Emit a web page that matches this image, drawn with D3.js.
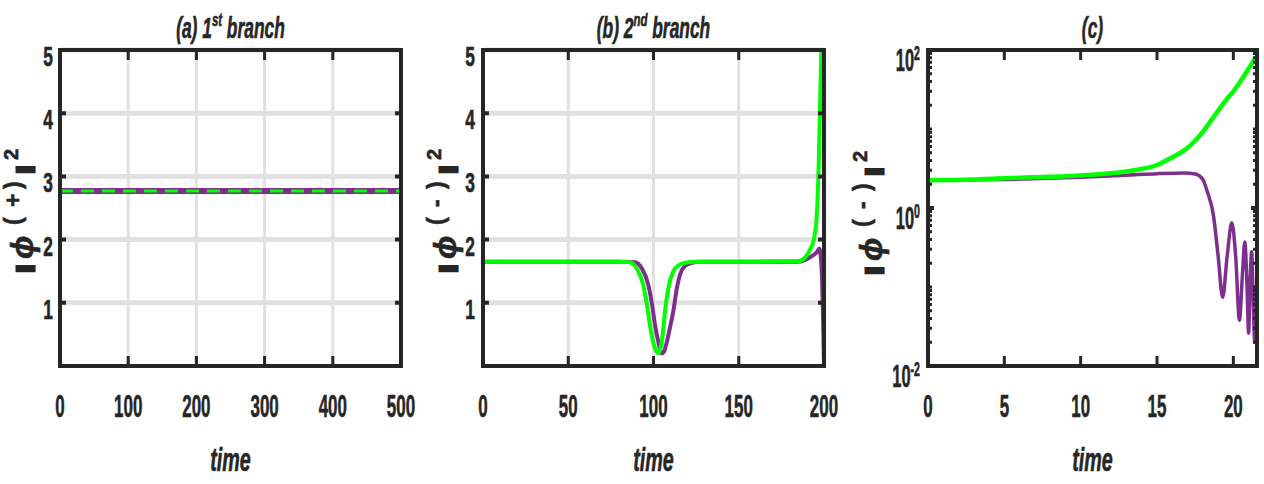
<!DOCTYPE html>
<html>
<head>
<meta charset="utf-8">
<script src="https://cdn.jsdelivr.net/npm/d3@7"></script>
<style>
  body { margin: 0; background: #fff; }
  text { font-family: "Liberation Sans", Arial, sans-serif; font-weight: bold; fill: #262626; stroke: #262626; stroke-width: 0.6px; }
</style>
</head>
<body>
<script>
// ---- data ----
// (a) 1st branch, |phi(+)|^2 vs time
var timeA   = [0, 100, 200, 300, 400, 500];
var purpleA = [2.77, 2.77, 2.77, 2.77, 2.77, 2.77];
var greenA  = [2.77, 2.77, 2.77, 2.77, 2.77, 2.77];

// (b) 2nd branch, |phi(-)|^2 vs time
var timeBg  = [0, 40, 80, 86, 90, 94, 96, 98, 100, 101.5, 102.5, 103.5, 105, 107, 109, 111.5, 114, 118, 125, 150, 185, 189, 192, 194, 195.7, 196.9, 197.6, 198.4];
var greenB  = [1.65, 1.65, 1.65, 1.64, 1.55, 1.28, 1.0, 0.63, 0.36, 0.24, 0.2, 0.23, 0.41, 0.92, 1.27, 1.49, 1.58, 1.63, 1.65, 1.65, 1.66, 1.72, 1.85, 2.0, 2.36, 3.2, 4.0, 4.97];
var timeBp  = [0, 40, 80, 89, 93, 97, 99, 101, 103, 104, 105, 106.5, 108, 110, 111.7, 113.5, 115.6, 118, 122, 128, 150, 185, 191.8, 195.7, 197.3, 198.6, 199.6, 200];
var purpleB = [1.65, 1.65, 1.65, 1.64, 1.55, 1.28, 1.0, 0.63, 0.36, 0.24, 0.2, 0.25, 0.4, 0.65, 0.88, 1.2, 1.45, 1.57, 1.63, 1.65, 1.65, 1.65, 1.72, 1.8, 1.86, 1.52, 0.57, 0];

// (c) |phi(-)|^2 vs time, log axis
var timeCg  = [0, 3, 5, 8, 10, 12, 13.5, 15, 16, 16.8, 17.4, 18, 18.5, 19, 19.5, 20, 20.5, 21, 21.5];
var greenC  = [2.25, 2.3, 2.38, 2.48, 2.58, 2.75, 3.0, 3.5, 4.4, 5.4, 6.8, 9.2, 12.5, 17, 23, 30, 41, 58, 82];
var timeCp  = [0, 5, 10, 13, 15, 16.8, 17.5, 18, 18.3, 18.7, 19.0, 19.3, 19.6, 19.9, 20.15, 20.4, 20.6, 20.75, 20.9, 21.0, 21.1, 21.2, 21.3, 21.4, 21.5];
var purpleC = [2.25, 2.3, 2.45, 2.6, 2.72, 2.78, 2.7, 2.3, 1.6, 0.8, 0.25, 0.074, 0.25, 0.65, 0.25, 0.038, 0.15, 0.37, 0.1, 0.026, 0.12, 0.28, 0.07, 0.02, 0.1];

var xTicksA = [0, 100, 200, 300, 400, 500];
var xTicksB = [0, 50, 100, 150, 200];
var xTicksC = [0, 5, 10, 15, 20];
var yTicksLin = [1, 2, 3, 4, 5];
var yTicksLog = [1e-2, 1e0, 1e2];
var yTickLogExp = ["-2", "0", "2"];

var titles = [["(a) 1", "st", " branch"], ["(b) 2", "nd", " branch"], ["(c)", "", ""]];

var purple = "#7E2F8E", green = "#00FF00", ink = "#262626", gridCol = "#e1e1e1";

var svg = d3.select("body").append("svg").attr("width", 1264).attr("height", 484);

var top_ = 50, bot = 366;

function txt(x, y, anchor, size, sx, italic) {
  return svg.append("text")
    .attr("transform", "translate(" + x + "," + y + ") scale(" + sx + ",1)")
    .attr("text-anchor", anchor)
    .attr("font-size", size)
    .attr("font-style", italic ? "italic" : "normal");
}

// rotated label |phi^(s)|^2 ; xb = baseline on screen, dy = vertical shift
function yLabel(xb, dy, sign) {
  var g = svg.append("g").attr("transform", "translate(" + xb + "," + dy + ") rotate(-90)");
  function piece(s, pos, size, shift, italic) {
    return g.append("text").attr("x", pos).attr("y", shift)
      .attr("font-size", size).attr("font-style", italic ? "italic" : "normal").text(s);
  }
  piece("|", -271, 17, -3).style("stroke-width", "5px");
  piece("ϕ", -259, 31, 0, true);
  piece("(", -225, 23, -12);
  piece(sign, -207, 23, -12);
  piece(")", -189, 23, -12);
  piece("|", -172, 17, -3).style("stroke-width", "5px");
  piece("2", -160, 20, -15);
}

function panel(left, right, xDomain, xTicks, yScale, grid, idx) {
  var g = svg.append("g");
  var x = d3.scaleLinear().domain(xDomain).range([left, right]);
  if (grid) {
    g.selectAll(".vg").data(xTicks).enter().append("line")
      .attr("x1", d => x(d)).attr("x2", d => x(d)).attr("y1", top_).attr("y2", bot)
      .attr("stroke", gridCol).attr("stroke-width", 3);
    g.selectAll(".hg").data(yTicksLin).enter().append("line")
      .attr("x1", left).attr("x2", right).attr("y1", d => yScale(d)).attr("y2", d => yScale(d))
      .attr("stroke", gridCol).attr("stroke-width", 5);
  }
  // title
  var tt = titles[idx];
  var t = txt((left + right) / 2, 38, "middle", 29, 0.6, true);
  t.append("tspan").text(tt[0]);
  if (tt[1]) {
    t.append("tspan").text(tt[1]).attr("font-size", 19).attr("dy", -12);
    t.append("tspan").text(tt[2]).attr("dy", 12);
  }
  // x tick labels
  xTicks.forEach(function (d) {
    txt(x(d), 417, "middle", 32, 0.53, false).text(d);
  });
  // x label
  txt((left + right) / 2, 471, "middle", 34, 0.58, true).text("time");
  return {g: g, x: x};
}

function frame(g, x, left, right, xTicks, yTicks, yScale) {
  g.selectAll(".xt").data(xTicks).enter().append("path")
    .attr("d", d => "M" + x(d) + "," + bot + "v-10M" + x(d) + "," + top_ + "v10")
    .attr("stroke", ink).attr("stroke-width", 3);
  g.selectAll(".yt").data(yTicks).enter().append("path")
    .attr("d", d => "M" + left + "," + yScale(d) + "h6M" + right + "," + yScale(d) + "h-6")
    .attr("stroke", ink).attr("stroke-width", 4);
  g.append("rect").attr("x", left).attr("y", top_).attr("width", right - left).attr("height", bot - top_)
    .attr("fill", "none").attr("stroke", ink).attr("stroke-width", 4);
}

// ---------- panel (a) ----------
var yLin = d3.scaleLinear().domain([0, 5]).range([bot, top_]);
var pa = panel(60, 401, [0, 500], xTicksA, yLin, true, 0);
var lineA = d3.line().x((d, i) => pa.x(timeA[i])).y(d => yLin(d));
pa.g.append("path").attr("d", lineA(purpleA)).attr("fill", "none").attr("stroke", purple).attr("stroke-width", 6);
pa.g.append("path").attr("d", lineA(greenA)).attr("fill", "none").attr("stroke", green).attr("stroke-width", 3)
  .attr("stroke-dasharray", "13,8");
frame(pa.g, pa.x, 60, 401, xTicksA, yTicksLin, yLin);
yTicksLin.forEach(d => txt(53, yLin(d) + 16, "end", 28, 0.62, false).text(d));
yLabel(33, 0, "+");

// ---------- panel (b) ----------
var pb = panel(483, 824, [0, 200], xTicksB, yLin, true, 1);
var lineB = function (ts) { return d3.line().curve(d3.curveMonotoneX).x((d, i) => pb.x(ts[i])).y(d => yLin(d)); };
pb.g.append("path").attr("d", lineB(timeBp)(purpleB)).attr("fill", "none").attr("stroke", purple).attr("stroke-width", 4);
pb.g.append("path").attr("d", lineB(timeBg)(greenB)).attr("fill", "none").attr("stroke", green).attr("stroke-width", 4);
frame(pb.g, pb.x, 483, 824, xTicksB, yTicksLin, yLin);
yTicksLin.forEach(d => txt(475, yLin(d) + 16, "end", 28, 0.62, false).text(d));
yLabel(456, 0, "-");

// ---------- panel (c) ----------
var yLog = d3.scaleLog().domain([1e-2, 1e2]).range([bot, top_]);
var pc = panel(928, 1257, [0, 21.55], xTicksC, yLog, false, 2);
var lineC = function (ts) { return d3.line().curve(d3.curveMonotoneX).x((d, i) => pc.x(ts[i])).y(d => yLog(d)); };
pc.g.append("path").attr("d", lineC(timeCp)(purpleC)).attr("fill", "none").attr("stroke", purple).attr("stroke-width", 3.5);
pc.g.append("path").attr("d", lineC(timeCg)(greenC)).attr("fill", "none").attr("stroke", green).attr("stroke-width", 4.5);
// minor log ticks
var minor = yLog.ticks().filter(d => yTicksLog.indexOf(d) < 0);
pc.g.selectAll(".mt").data(minor).enter().append("path")
  .attr("d", d => "M928," + yLog(d) + "h4M1257," + yLog(d) + "h-4")
  .attr("stroke", ink).attr("stroke-width", 3);
frame(pc.g, pc.x, 928, 1257, xTicksC, yTicksLog, yLog);
yTicksLog.forEach(function (d, i) {
  var t = txt(920, yLog(d) + 21, "end", 31, 0.53, false);
  t.append("tspan").text("10");
  t.append("tspan").text(yTickLogExp[i]).attr("font-size", 20).attr("dy", -11);
});
yLabel(882, 2, "-");
</script>
</body>
</html>
